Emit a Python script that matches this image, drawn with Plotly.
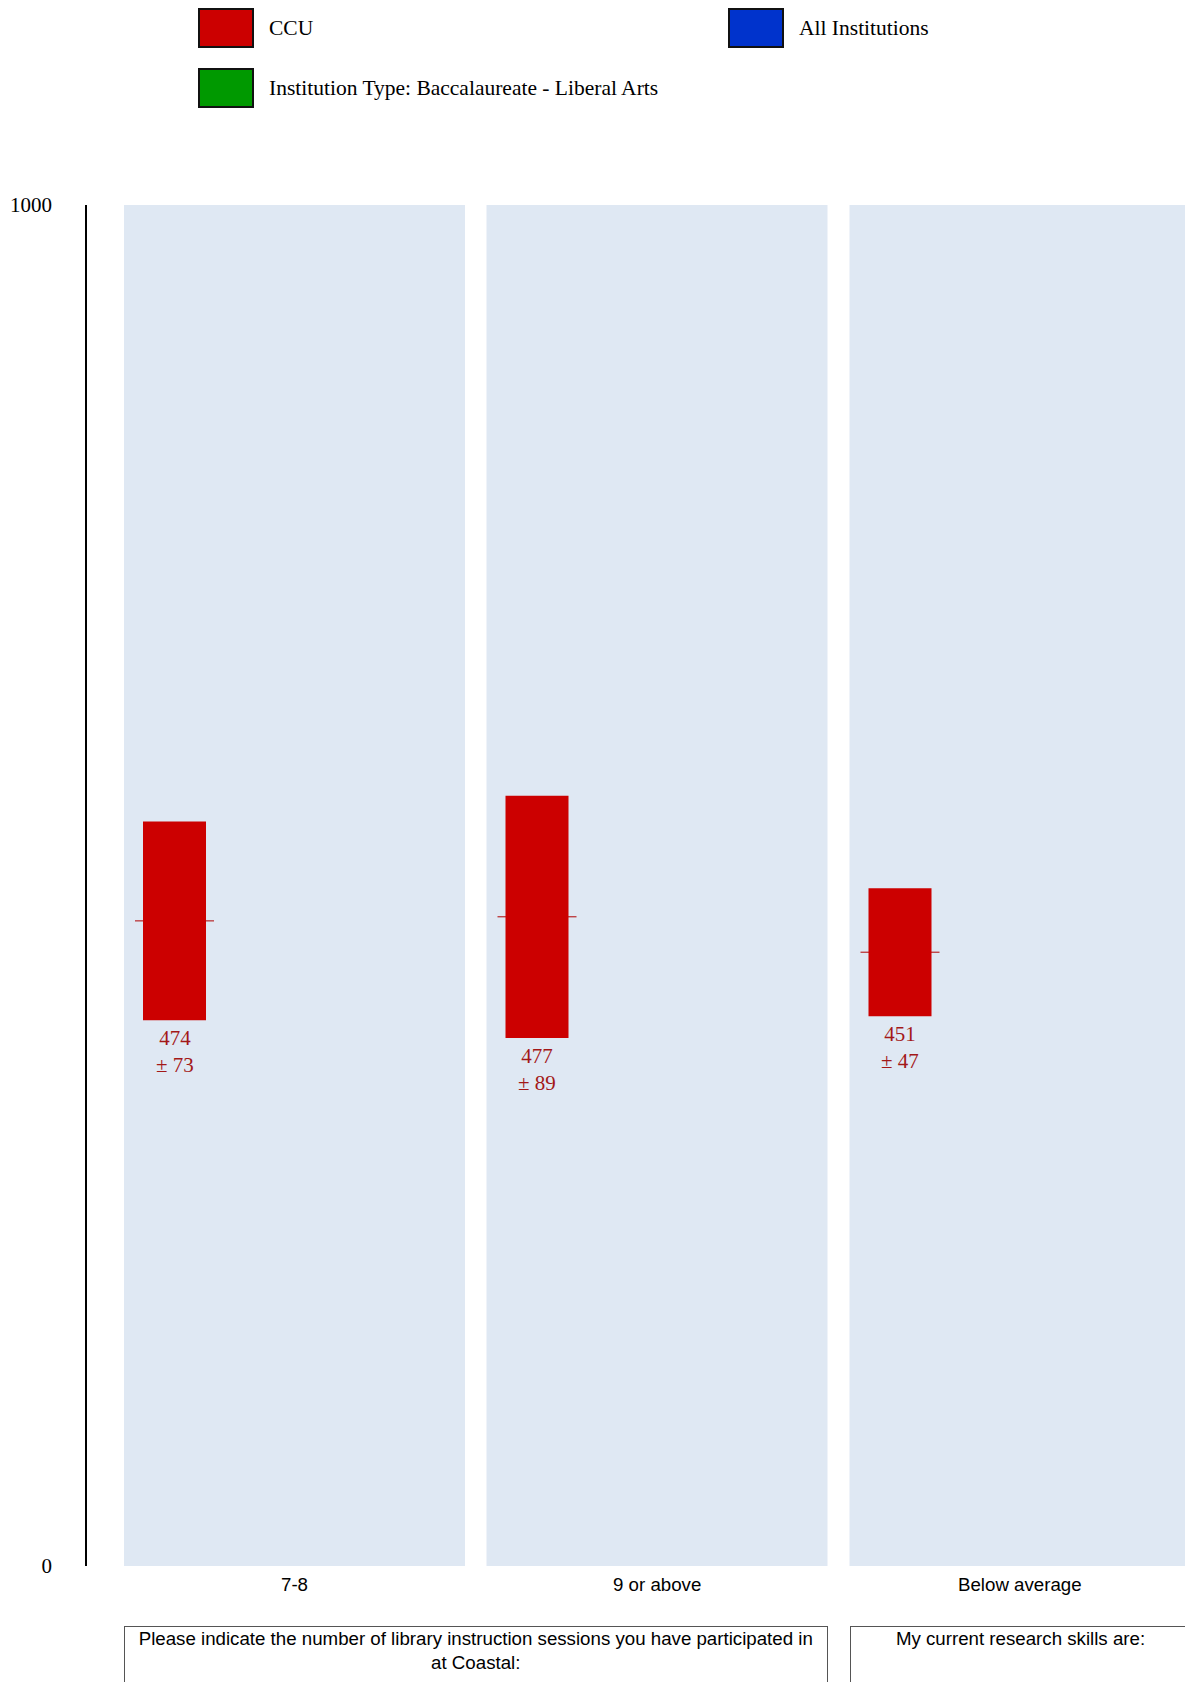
import plotly.graph_objects as go

# ---------------- data ----------------
series = ["CCU", "All Institutions", "Institution Type: Baccalaureate - Liberal Arts"]
series_colors = ["#cc0000", "#0033cc", "#009900"]
panels = ["7-8", "9 or above", "Below average"]
questions = [
    "Please indicate the number of library instruction sessions you have participated in<br>at Coastal:",
    "My current research skills are:",
]
question_panels = [[0, 1], [2]]
ccu_mean = [474, 477, 451]
ccu_sd = [73, 89, 47]
y_tickvals = [0, 1000]
y_ticktext = ["0", "1000"]

# ---------------- layout geometry (pixels) ----------------
W, H = 1185, 1682
ML, MR, MT, MB = 80, 0, 205, 116
PW = W - ML - MR
PH = H - MT - MB


def px(x):
    return (x - ML) / PW


def py(y):
    return (H - MB - y) / PH


PANEL_W = 341
panel_px = [(124, 465), (486.5, 827.5), (849.5, 1185)]
UNIT = 105.0          # pixels per category step
LEFT_OFF = 50.5       # px from panel left to first slot centre
BAR_W = 0.6
MEAN_W = 79 / UNIT

SERIF = "Liberation Serif, Times New Roman, serif"
SANS = "Liberation Sans, Arial, sans-serif"

fig = go.Figure()
shapes = []
annotations = []

for i, p in enumerate(panels):
    xa = "x" if i == 0 else f"x{i + 1}"
    fig.add_trace(go.Bar(
        x=[series[0]], y=[2 * ccu_sd[i]], base=[ccu_mean[i] - ccu_sd[i]],
        width=BAR_W, marker=dict(color=series_colors[0], line=dict(width=0)),
        xaxis=xa, yaxis="y", showlegend=False, hoverinfo="skip",
    ))
    idx = series.index("CCU")
    shapes.append(dict(type="line", xref=xa, yref="y",
                       x0=idx - MEAN_W / 2, x1=idx + MEAN_W / 2,
                       y0=ccu_mean[i], y1=ccu_mean[i],
                       line=dict(color="#b00000", width=1), layer="below"))
    annotations.append(dict(xref=xa, yref="y", x=series[0], y=ccu_mean[i] - ccu_sd[i],
                            text=f"{ccu_mean[i]}<br>± {ccu_sd[i]}", showarrow=False,
                            xanchor="center", yanchor="top", yshift=-4,
                            font=dict(family=SERIF, size=21, color="#a31818")))
    annotations.append(dict(xref="paper", yref="paper",
                            x=px(panel_px[i][0] + PANEL_W / 2), y=0,
                            xanchor="center", yshift=-18, yanchor="middle",
                            text=p, showarrow=False,
                            font=dict(family=SANS, size=18.7, color="black")))

layout_axes = {}
for i in range(len(panels)):
    name = "xaxis" if i == 0 else f"xaxis{i + 1}"
    l, r = panel_px[i]
    start = -LEFT_OFF / UNIT
    layout_axes[name] = dict(
        domain=[px(l), px(r)], anchor="y",
        type="category", categoryorder="array", categoryarray=series,
        range=[start, start + (r - l) / UNIT],
        showgrid=False, zeroline=False, showticklabels=False, showline=False,
        ticks="", fixedrange=True,
    )

# question boxes
for q, pans in zip(questions, question_panels):
    l = panel_px[pans[0]][0]
    r = panel_px[pans[-1]][0] + PANEL_W
    bw, bp = 1, 1
    annotations.append(dict(xref="paper", yref="paper", x=px(l), y=py(1626),
                            xanchor="left", yanchor="top", text=q, showarrow=False,
                            width=(r - l) - 2 * (bw + bp), height=80, valign="top",
                            align="center", bordercolor="#555555", borderwidth=bw,
                            borderpad=bp,
                            font=dict(family=SANS, size=18.7, color="black")))

# custom legend
legend_pos = [(199, 9), (729, 9), (199, 69)]
for name, col, (lx, ty) in zip(series, series_colors, legend_pos):
    shapes.append(dict(type="rect", xref="paper", yref="paper",
                       x0=px(lx), x1=px(lx + 54), y0=py(ty + 38), y1=py(ty),
                       fillcolor=col, line=dict(color="#111111", width=2)))
    annotations.append(dict(xref="paper", yref="paper", x=px(lx + 68), y=py(ty + 19),
                            xanchor="left", yanchor="middle", text=name, showarrow=False,
                            font=dict(family=SERIF, size=21.5, color="black")))

fig.update_layout(
    width=W, height=H,
    margin=dict(l=ML, r=MR, t=MT, b=MB, pad=0),
    paper_bgcolor="white", plot_bgcolor="#dfe8f3",
    barmode="overlay", showlegend=False,
    yaxis=dict(range=[0, 1000], tickvals=y_tickvals, ticktext=y_ticktext,
               anchor="free", position=px(86), showline=True, linecolor="black",
               linewidth=1.5, ticks="outside", ticklen=29, tickcolor="rgba(0,0,0,0)",
               showgrid=False, zeroline=False, fixedrange=True,
               tickfont=dict(family=SERIF, size=21, color="black")),
    shapes=shapes, annotations=annotations,
    **layout_axes,
)

fig.write_html("out.html", config={"displayModeBar": False},
               post_script="document.body.style.margin='0';document.body.style.overflow='hidden';")
